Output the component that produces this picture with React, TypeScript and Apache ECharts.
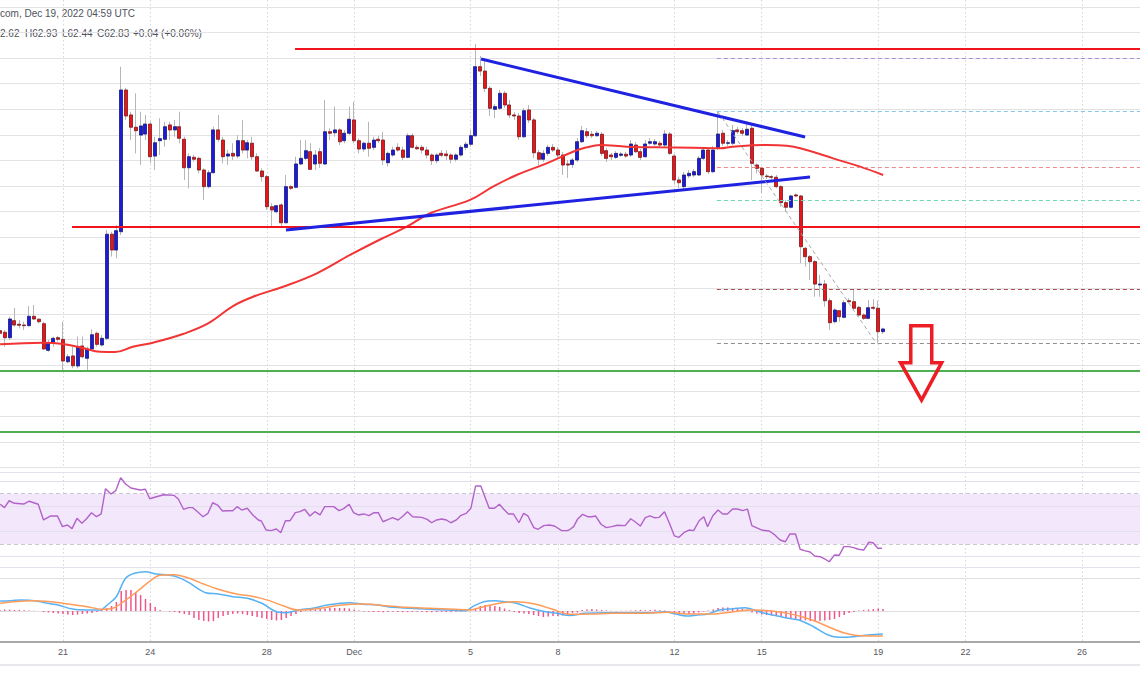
import React, { useEffect, useRef } from 'react';
import * as echarts from 'echarts';

// ---- time axis: x values are days since Nov 21 00:00 UTC (4H candles) ----
const X_MIN = -2.1639;
const X_MAX = 36.993;
const candleStartDay = -13 / 6; // Nov 18 20:00
const candleStepDay = 1 / 6; // 4 hours
const dateTickDays = [0, 3, 7, 10, 14, 17, 21, 24, 28, 31, 35];
const dateTickLabels = ['21', '24', '28', 'Dec', '5', '8', '12', '15', '19', '22', '26'];

// ---- LTC/USD 4H candles: [open, high, low, close] ----
const candles: number[][] = [
  [62.70, 62.91, 62.20, 62.49], [62.57, 62.75, 61.45, 62.15], [62.15, 63.79, 61.97, 63.61], [63.48, 64.47, 63.01, 63.14],
  [63.20, 63.53, 62.88, 63.12], [63.14, 63.40, 62.75, 63.09], [63.09, 64.62, 63.01, 63.82], [63.82, 64.70, 63.53, 63.61],
  [63.59, 63.66, 63.27, 63.40], [63.24, 63.40, 61.19, 61.27], [61.16, 61.97, 61.05, 61.76], [61.76, 62.23, 61.45, 62.10],
  [62.15, 62.28, 61.84, 62.02], [62.02, 63.40, 59.49, 60.33], [60.27, 60.87, 60.15, 60.66], [60.72, 61.45, 59.76, 59.96],
  [59.94, 62.23, 59.76, 61.45], [61.50, 62.23, 60.54, 60.66], [60.54, 61.45, 59.62, 61.27], [61.27, 62.80, 61.19, 62.38],
  [62.49, 62.62, 61.45, 61.63], [61.58, 62.36, 61.45, 62.10], [62.10, 70.56, 61.97, 70.23], [70.23, 70.43, 68.48, 69.00],
  [69.00, 70.95, 68.35, 70.51], [70.43, 83.32, 70.17, 81.50], [81.50, 81.66, 79.16, 79.47], [79.55, 79.80, 77.59, 78.59],
  [78.59, 81.24, 76.55, 78.32], [77.98, 79.80, 75.64, 78.69], [78.06, 79.55, 77.59, 78.84], [78.84, 79.02, 75.77, 76.29],
  [76.34, 77.85, 75.25, 77.38], [77.54, 79.29, 76.42, 77.70], [77.65, 79.02, 77.07, 78.63], [78.77, 79.02, 77.59, 78.38],
  [78.38, 79.16, 77.85, 78.63], [78.63, 79.80, 77.34, 77.73], [77.65, 77.85, 74.47, 75.43], [75.43, 76.55, 73.82, 76.29],
  [76.24, 76.42, 75.90, 76.09], [76.16, 76.29, 74.99, 75.25], [75.25, 75.38, 72.91, 73.95], [73.95, 75.25, 73.82, 75.04],
  [75.04, 78.63, 74.99, 78.38], [78.38, 79.55, 77.46, 77.65], [77.59, 77.85, 75.77, 76.29], [76.34, 76.81, 75.64, 76.50],
  [76.55, 77.34, 76.03, 76.34], [76.34, 77.98, 76.16, 77.54], [77.54, 79.16, 76.55, 76.81], [76.81, 77.59, 76.16, 77.38],
  [77.34, 77.85, 76.03, 76.29], [76.29, 76.55, 75.12, 75.17], [75.17, 75.38, 74.34, 74.73], [74.73, 74.86, 72.13, 72.38],
  [72.38, 72.65, 70.82, 72.13], [71.99, 72.52, 71.87, 72.46], [72.52, 72.65, 70.82, 71.13], [71.13, 74.86, 71.09, 73.95],
  [73.95, 74.08, 73.69, 73.82], [73.90, 76.29, 73.82, 75.72], [75.72, 77.59, 75.64, 76.16], [76.16, 77.59, 76.03, 76.76],
  [76.68, 77.34, 75.25, 75.30], [75.72, 76.81, 75.25, 76.42], [76.68, 76.97, 75.41, 75.77], [75.72, 80.72, 75.64, 78.24],
  [78.24, 78.51, 77.59, 78.12], [78.16, 80.20, 77.85, 78.38], [78.38, 78.51, 77.20, 77.46], [77.54, 78.38, 77.34, 78.12],
  [78.12, 80.20, 77.98, 79.21], [79.16, 80.59, 77.34, 77.54], [77.54, 77.73, 76.55, 76.89], [76.89, 77.46, 76.68, 77.34],
  [77.34, 79.02, 76.29, 76.95], [77.02, 77.85, 76.81, 77.59], [77.65, 77.91, 77.36, 77.54], [77.59, 78.24, 75.64, 76.03],
  [75.82, 76.68, 75.51, 76.55], [76.42, 77.07, 76.29, 76.81], [77.02, 77.34, 76.68, 76.81], [76.81, 77.07, 76.03, 76.24],
  [76.24, 78.12, 76.16, 77.93], [77.93, 78.12, 76.95, 77.02], [77.02, 77.20, 76.81, 76.91], [77.02, 77.20, 76.55, 76.81],
  [76.81, 77.07, 76.16, 76.42], [76.42, 76.55, 75.64, 75.98], [75.98, 76.55, 75.77, 76.42], [76.55, 76.81, 76.24, 76.40],
  [76.50, 76.81, 76.03, 76.37], [76.42, 76.55, 75.77, 76.09], [76.09, 76.55, 75.90, 76.42], [76.42, 77.20, 76.29, 77.02],
  [77.02, 77.46, 76.81, 77.26], [77.26, 78.38, 77.07, 77.93], [77.93, 85.09, 77.83, 83.32], [83.32, 84.16, 82.59, 82.98],
  [82.98, 84.00, 81.34, 81.63], [81.63, 81.81, 79.47, 80.07], [79.99, 80.41, 79.31, 80.20], [80.07, 81.50, 79.94, 81.24],
  [81.24, 81.42, 80.09, 80.33], [80.33, 80.72, 79.31, 79.55], [79.55, 79.78, 79.16, 79.47], [79.47, 79.70, 77.59, 77.85],
  [77.85, 80.09, 77.75, 79.88], [79.94, 80.33, 78.92, 79.16], [79.16, 79.31, 76.19, 76.60], [76.60, 76.81, 75.64, 76.09],
  [76.09, 76.81, 75.88, 76.55], [76.55, 77.20, 76.34, 77.02], [77.02, 77.28, 76.66, 76.81], [76.81, 77.05, 76.19, 76.42],
  [76.42, 76.66, 74.86, 75.64], [75.72, 76.03, 74.63, 75.64], [75.68, 76.19, 75.41, 76.03], [76.03, 77.75, 75.88, 77.46],
  [77.46, 78.69, 77.36, 78.32], [78.24, 78.53, 77.75, 77.93], [78.04, 78.30, 77.75, 77.93], [77.93, 78.30, 77.83, 78.12],
  [78.04, 78.22, 76.34, 76.55], [76.76, 76.97, 75.88, 76.16], [76.42, 76.58, 76.03, 76.29], [76.24, 76.73, 76.11, 76.55],
  [76.40, 76.66, 76.27, 76.50], [76.48, 76.66, 76.19, 76.34], [76.42, 77.59, 76.27, 77.28], [77.20, 77.44, 76.58, 76.68],
  [76.68, 76.89, 76.03, 76.24], [76.29, 77.59, 76.19, 77.28], [77.34, 77.75, 77.20, 77.46], [77.28, 77.67, 77.13, 77.46],
  [77.34, 77.52, 77.05, 77.20], [77.20, 78.38, 77.05, 78.06], [78.06, 78.22, 76.42, 76.55], [76.34, 76.50, 74.16, 74.47],
  [74.47, 74.70, 73.84, 74.26], [73.95, 75.09, 73.69, 74.86], [74.80, 75.25, 74.63, 74.99], [74.86, 75.33, 74.70, 75.12],
  [74.86, 76.34, 74.78, 76.16], [76.16, 77.05, 76.03, 76.81], [76.81, 76.97, 74.94, 75.12], [75.12, 77.13, 75.02, 76.81],
  [76.95, 79.86, 76.81, 78.06], [78.12, 78.38, 77.13, 77.34], [77.34, 77.59, 77.13, 77.38], [77.34, 78.77, 77.20, 78.32],
  [78.38, 78.61, 78.06, 78.24], [78.32, 78.53, 77.91, 78.12], [77.98, 79.00, 77.91, 78.43], [78.51, 78.77, 74.47, 75.77],
  [75.64, 75.77, 74.99, 75.38], [75.38, 75.51, 73.43, 74.86], [74.78, 74.94, 74.55, 74.73], [74.73, 74.86, 74.47, 74.68],
  [74.68, 74.86, 73.82, 73.95], [73.95, 74.08, 72.38, 72.70], [72.70, 72.91, 71.99, 72.34], [72.34, 73.30, 72.26, 73.22],
  [73.30, 73.43, 73.16, 73.22], [73.22, 73.30, 67.96, 69.26], [69.13, 69.26, 67.70, 68.48], [68.48, 68.61, 66.66, 68.09],
  [68.09, 68.22, 65.35, 66.34], [66.27, 67.05, 65.35, 66.34], [66.34, 66.66, 64.57, 65.04], [65.04, 65.23, 62.75, 63.32],
  [63.40, 64.45, 63.27, 64.31], [64.26, 64.31, 63.40, 63.79], [63.74, 65.09, 63.66, 64.88], [65.04, 65.23, 64.88, 64.96],
  [64.96, 65.95, 64.31, 64.45], [64.52, 64.62, 63.79, 63.92], [63.92, 64.05, 63.53, 63.66], [63.66, 65.09, 63.59, 64.49],
  [64.52, 65.15, 64.31, 64.45], [64.45, 65.04, 61.71, 62.62], [62.62, 62.93, 62.44, 62.83],
];

// ---- moving average (red), sampled [day, price] ----
const maPoints: number[][] = [
  [-2.16, 61.63], [-0.69, 61.76], [0, 61.66], [0.69, 61.34], [1.27, 61.05], [1.79, 61.03], [2.40, 61.44], [3.09, 61.76],
  [4.12, 62.44], [4.95, 63.22], [5.84, 64.62], [6.53, 65.35], [7.56, 66.13], [8.72, 67.18], [9.86, 68.61], [10.89, 69.82],
  [11.81, 70.82], [12.61, 71.87], [13.98, 72.91], [14.77, 73.95], [15.58, 74.86], [16.61, 75.77], [17.52, 76.68],
  [17.99, 77.02], [18.45, 77.20], [19.36, 77.07], [20.50, 77.02], [21.64, 76.99], [22.57, 76.94], [23.01, 77.07],
  [24.17, 77.20], [24.86, 77.15], [25.54, 76.81], [26.45, 76.16], [27.38, 75.51], [28.17, 74.86],
];

// ---- RSI [day, value] ----
const rsiPoints: number[][] = [
  [-2.16, 61.6], [-2.01, 58.9], [-1.85, 64.4], [-1.67, 62.4], [-1.35, 61.8], [-1.16, 64.0], [-0.85, 61.6], [-0.67, 49.1],
  [-0.42, 52.3], [-0.19, 52.3], [-0.02, 43.8], [0.15, 45.1], [0.31, 42.2], [0.48, 50.4], [0.65, 46.5], [0.81, 50.1],
  [0.98, 54.9], [1.15, 51.7], [1.31, 53.9], [1.46, 74.0], [1.65, 69.8], [1.81, 72.4], [1.98, 82.7], [2.15, 77.7],
  [2.33, 74.5], [2.65, 72.9], [2.83, 73.5], [2.98, 66.0], [3.21, 67.6], [3.46, 69.2], [3.81, 68.7], [3.96, 65.8],
  [4.14, 57.6], [4.31, 58.9], [4.46, 58.9], [4.64, 55.2], [4.81, 51.7], [4.98, 54.4], [5.14, 62.8], [5.31, 61.0],
  [5.48, 56.2], [5.64, 56.5], [5.83, 56.5], [5.98, 59.7], [6.14, 57.0], [6.33, 58.4], [6.52, 53.1], [6.71, 49.1],
  [6.81, 48.3], [6.98, 41.1], [7.14, 40.6], [7.33, 41.9], [7.48, 39.0], [7.64, 48.5], [7.80, 48.5], [7.98, 54.9],
  [8.14, 55.7], [8.30, 57.6], [8.48, 52.3], [8.65, 55.7], [8.83, 53.1], [8.99, 59.7], [9.14, 59.7], [9.30, 59.7],
  [9.48, 56.5], [9.64, 58.1], [9.83, 61.6], [9.98, 54.9], [10.14, 53.1], [10.33, 53.9], [10.51, 52.5], [10.68, 54.9],
  [10.83, 54.9], [10.99, 47.7], [11.18, 49.6], [11.32, 50.9], [11.51, 49.1], [11.68, 52.3], [11.83, 55.7], [12.01, 51.7],
  [12.32, 51.2], [12.51, 49.6], [12.66, 46.9], [12.83, 49.1], [13.01, 49.9], [13.17, 49.1], [13.32, 46.9], [13.51, 49.1],
  [13.67, 52.8], [13.85, 54.4], [14.01, 58.4], [14.17, 76.1], [14.35, 76.1], [14.64, 58.4], [14.82, 58.4], [14.99, 61.6],
  [15.13, 57.8], [15.30, 53.9], [15.47, 53.9], [15.66, 46.9], [15.82, 54.4], [15.97, 52.3], [16.17, 43.0], [16.32, 41.7],
  [16.51, 44.6], [16.70, 45.1], [16.88, 44.3], [17.13, 40.6], [17.32, 40.6], [17.42, 41.7], [17.54, 43.8], [17.67, 49.6],
  [17.85, 53.6], [18.02, 51.7], [18.16, 51.7], [18.29, 52.3], [18.48, 45.7], [18.66, 43.0], [18.85, 43.8], [19.04, 44.9],
  [19.31, 44.6], [19.50, 50.1], [19.66, 47.5], [19.83, 44.3], [20.00, 50.9], [20.16, 52.3], [20.31, 50.9], [20.48, 51.2],
  [20.66, 55.7], [20.83, 46.5], [21.00, 36.4], [21.16, 35.3], [21.35, 39.5], [21.51, 41.1], [21.66, 40.6], [21.85, 48.5],
  [22.01, 51.7], [22.14, 43.8], [22.32, 52.5], [22.50, 57.0], [22.66, 53.9], [22.82, 53.9], [23.00, 57.8], [23.16, 57.8],
  [23.35, 56.5], [23.51, 57.8], [23.66, 44.6], [23.85, 42.7], [24.03, 40.9], [24.26, 40.3], [24.45, 37.2], [24.63, 33.2],
  [24.81, 31.8], [24.97, 38.0], [25.16, 38.0], [25.32, 25.8], [25.47, 24.7], [25.66, 23.6], [25.82, 20.5], [26.00, 19.9],
  [26.16, 18.1], [26.32, 15.9], [26.50, 21.3], [26.66, 21.0], [26.82, 27.9], [26.99, 27.9], [27.16, 27.1], [27.32, 25.8],
  [27.50, 25.2], [27.68, 31.4], [27.82, 31.0], [27.99, 26.6], [28.13, 26.6],
];
const rsiGridLevels = [20, 40, 60, 80];
const rsiBandLevels = [70, 30];

// ---- MACD ----
const macdLine: number[][] = [
  [-2.16, 0.76], [-1.79, 0.79], [-1.42, 0.84], [-0.98, 0.79], [-0.54, 0.59], [-0.17, 0.46], [0.33, 0.15], [0.84, 0.08],
  [1.27, 0.08], [1.52, 0.46], [1.83, 1.09], [2.15, 2.50], [2.46, 2.88], [2.83, 3.00], [3.21, 2.82], [3.58, 2.75],
  [3.96, 2.57], [4.33, 2.16], [4.90, 1.40], [5.33, 1.30], [5.83, 1.09], [6.33, 0.97], [6.83, 0.59], [7.33, -0.05],
  [7.70, -0.13], [8.08, 0.08], [8.58, 0.21], [9.08, 0.46], [9.83, 0.63], [10.33, 0.51], [10.83, 0.46], [11.32, 0.28],
  [11.95, 0.21], [12.58, 0.13], [13.20, 0.08], [13.83, 0.02], [14.07, 0.33], [14.45, 0.71], [14.82, 0.79], [15.20, 0.71],
  [15.57, 0.59], [16.07, 0.21], [16.57, -0.05], [16.95, -0.18], [17.41, -0.34], [17.91, -0.18], [18.66, -0.13],
  [19.41, -0.13], [20.16, -0.13], [20.66, -0.05], [21.04, -0.23], [21.41, -0.38], [21.79, -0.31], [22.16, -0.23],
  [22.54, 0.08], [23.03, 0.18], [23.41, 0.25], [23.66, 0.13], [24.03, -0.13], [24.54, -0.38], [24.91, -0.56],
  [25.28, -0.69], [25.78, -1.20], [26.28, -1.83], [26.66, -2.01], [27.16, -1.96], [27.66, -1.83], [28.16, -1.76],
];
const signalLine: number[][] = [
  [-2.16, 0.59], [-1.67, 0.71], [-1.04, 0.79], [-0.42, 0.71], [0.21, 0.53], [0.84, 0.33], [1.33, 0.13], [1.71, 0.21],
  [2.08, 0.71], [2.58, 1.55], [2.96, 2.24], [3.33, 2.73], [3.83, 2.77], [4.33, 2.50], [4.83, 2.06], [5.33, 1.66],
  [5.96, 1.30], [6.58, 1.09], [7.08, 0.79], [7.58, 0.38], [8.08, 0.08], [8.83, 0.21], [9.58, 0.46], [10.33, 0.53],
  [11.08, 0.40], [11.83, 0.28], [12.58, 0.21], [13.45, 0.13], [13.95, 0.08], [14.45, 0.33], [15.07, 0.63], [15.57, 0.71],
  [16.20, 0.53], [16.82, 0.13], [17.41, -0.25], [18.16, -0.23], [18.91, -0.18], [19.91, -0.18], [20.79, -0.10],
  [21.54, -0.23], [22.29, -0.23], [23.03, -0.05], [23.66, 0.08], [24.28, 0.02], [24.91, -0.18], [25.66, -0.63],
  [26.41, -1.32], [26.88, -1.70], [27.38, -1.89], [28.16, -1.91],
];
const macdHistogram = [
  0.08, 0.11, 0.11, 0.08, 0.08, 0.06, 0.04, 0.02, 0, -0.08,
  -0.11, -0.15, -0.19, -0.23, -0.27, -0.31, -0.27, -0.23, -0.19, -0.15,
  -0.08, 0.11, 0.23, 0.38, 0.69, 1.53, 1.60, 1.60, 1.45, 1.22,
  0.92, 0.61, 0.31, 0.08, 0, -0.04, -0.08, -0.15, -0.23, -0.31,
  -0.53, -0.69, -0.76, -0.80, -0.76, -0.53, -0.38, -0.31, -0.23, -0.19,
  -0.23, -0.31, -0.38, -0.46, -0.53, -0.61, -0.69, -0.72, -0.69, -0.53,
  -0.38, -0.23, -0.08, 0.04, 0.08, 0.11, 0.15, 0.19, 0.23, 0.23,
  0.23, 0.23, 0.19, 0.11, 0.04, -0.04, -0.06, -0.08, -0.08, -0.09,
  -0.08, -0.06, -0.08, -0.09, -0.08, -0.08, -0.06, -0.08, -0.09, -0.09,
  -0.08, -0.06, -0.08, -0.08, -0.06, -0.04, -0.02, 0.04, 0.15, 0.38,
  0.46, 0.46, 0.38, 0.31, 0.19, 0.08, -0.08, -0.15, -0.19, -0.23,
  -0.31, -0.38, -0.46, -0.42, -0.38, -0.38, -0.34, -0.31, -0.15, -0.11,
  0.08, 0.11, 0.15, 0.11, 0.08, 0.04, 0.02, -0.02, 0.02, 0.02,
  0.04, 0.06, 0.08, 0.06, 0.08, 0.09, 0.06, 0.04, -0.04, -0.15,
  -0.19, -0.23, -0.23, -0.19, -0.11, -0.04, 0.04, 0.11, 0.23, 0.27,
  0.27, 0.24, 0.23, 0.19, 0.11, -0.11, -0.19, -0.27, -0.31, -0.34,
  -0.38, -0.46, -0.53, -0.61, -0.65, -0.69, -0.72, -0.76, -0.76, -0.76,
  -0.72, -0.69, -0.61, -0.46, -0.31, -0.15, -0.08, 0.04, 0.08, 0.11,
  0.15, 0.19, 0.15,
];
const macdGridLevels = [0, 2.5];

// ---- drawings ----
const resistanceLevels = [
  { price: 84.70, fromDay: 7.97 },
  { price: 70.80, fromDay: 0.31 },
];
const supportLevels = [59.55, 54.78];
const fibStartDay = 22.46;
const fibLevels = [84.0, 79.86, 75.48, 72.91, 65.95, 61.73];
const fibColors = ['#ab8fd9', '#86c8ea', '#ee8a8a', '#6fd6b2', '#b04d4d', '#8f8f8f'];
const trendUpper = [[14.36, 83.92], [25.49, 77.83]];
const trendLower = [[7.66, 70.56], [25.66, 74.70]];
const guideLine = [[22.5, 79.78], [27.93, 61.73]];
const arrowPoints = [
  [29.12, 63.09], [29.84, 63.09], [29.84, 60.20], [30.18, 60.20],
  [29.49, 57.28], [28.77, 60.20], [29.12, 60.20],
];

const FONT = '"Liberation Sans", Arial, sans-serif';

function buildOption(): any {
  const candleData = candles.map((c, k) => [candleStartDay + k * candleStepDay, c[0], c[3], c[2], c[1]]);
  const bodyData = candles.map((c, k) => [
    candleStartDay + k * candleStepDay, c[0], c[3], Math.min(c[0], c[3]), Math.max(c[0], c[3]),
  ]);
  const histData = macdHistogram.map((v, k) => [candleStartDay + k * candleStepDay, v]);

  const vSplit = { show: true, lineStyle: { color: '#d6d7dc', type: [1.5, 2.5], width: 1 } };
  const baseX = {
    type: 'value', min: X_MIN, max: X_MAX,
    axisLine: { show: false, onZero: false },
    axisTick: { show: false, customValues: dateTickDays },
    axisLabel: { show: false, customValues: dateTickDays },
    splitLine: vSplit,
  };
  const hiddenY = {
    type: 'value', axisLine: { show: false }, axisTick: { show: false }, axisLabel: { show: false },
    splitLine: { show: false },
  };
  const noLabel = { show: false };

  const drawingLines: any[] = [];
  resistanceLevels.forEach((r) => {
    drawingLines.push([
      { coord: [r.fromDay, r.price], lineStyle: { color: '#f2141d', width: 2, type: 'solid' } },
      { coord: [X_MAX, r.price] },
    ]);
  });
  supportLevels.forEach((p) => {
    drawingLines.push({ yAxis: p, lineStyle: { color: '#4fb052', width: 2, type: 'solid' } });
  });
  fibLevels.forEach((p, i) => {
    drawingLines.push([
      { coord: [fibStartDay, p], lineStyle: { color: fibColors[i], width: 1, type: [4, 3] } },
      { coord: [X_MAX, p] },
    ]);
  });
  [trendUpper, trendLower].forEach((t) => {
    drawingLines.push([
      { coord: t[0], lineStyle: { color: '#1f22e0', width: 3, type: 'solid' } },
      { coord: t[1] },
    ]);
  });
  drawingLines.push([
    { coord: guideLine[0], lineStyle: { color: '#a9a9a9', width: 1, type: [4, 3] } },
    { coord: guideLine[1] },
  ]);

  return {
    animation: false,
    backgroundColor: '#ffffff',
    grid: [
      { left: 0, right: 0, top: 0, height: 467.6 },
      { left: 0, right: 0, top: 472, height: 95.5 },
      { left: 0, right: 0, top: 567.5, height: 74.2 },
    ],
    xAxis: [
      { ...baseX, gridIndex: 0 },
      { ...baseX, gridIndex: 1, position: 'top', axisLine: { show: true, onZero: false, lineStyle: { color: '#e2e2ec', width: 1 } } },
      {
        ...baseX, gridIndex: 2, position: 'bottom',
        axisLine: { show: true, onZero: false, lineStyle: { color: '#8c8c8c', width: 1.5 } },
        axisLabel: {
          show: true, customValues: dateTickDays, color: '#555860', fontSize: 9, fontFamily: FONT, margin: 6,
          formatter: (v: number) => {
            const i = dateTickDays.findIndex((t) => Math.abs(t - v) < 1e-6);
            return i >= 0 ? dateTickLabels[i] : '';
          },
        },
      },
      {
        ...baseX, gridIndex: 2, position: 'top', splitLine: { show: false },
        axisLine: { show: true, onZero: false, lineStyle: { color: '#e2e2ec', width: 1 } },
      },
    ],
    yAxis: [
      {
        ...hiddenY, gridIndex: 0, min: 52, max: 88.53125, interval: 2,
        splitLine: { show: true, showMaxLine: false, lineStyle: { color: '#e3e3e7', width: 1.2 } },
      },
      { ...hiddenY, gridIndex: 1, min: 11.31, max: 87.26 },
      { ...hiddenY, gridIndex: 2, min: -2.343, max: 3.321 },
    ],
    graphic: [
      { type: 'text', x: 0, y: 13, silent: true, style: { text: 'com, Dec 19, 2022 04:59 UTC', fill: '#4f525c', fontSize: 10, fontFamily: FONT, verticalAlign: 'middle' } },
      { type: 'text', x: 0, y: 33.5, silent: true, style: { text: '2.62', fill: '#4f525c', fontSize: 10, fontFamily: FONT, verticalAlign: 'middle' } },
      { type: 'text', x: 25, y: 33.5, silent: true, style: { text: 'H62.93', fill: '#4f525c', fontSize: 10, fontFamily: FONT, verticalAlign: 'middle' } },
      { type: 'text', x: 62, y: 33.5, silent: true, style: { text: 'L62.44', fill: '#4f525c', fontSize: 10, fontFamily: FONT, verticalAlign: 'middle' } },
      { type: 'text', x: 97, y: 33.5, silent: true, style: { text: 'C62.83', fill: '#4f525c', fontSize: 10, fontFamily: FONT, verticalAlign: 'middle' } },
      { type: 'text', x: 133, y: 33.5, silent: true, style: { text: '+0.04 (+0.06%)', fill: '#4f525c', fontSize: 10, fontFamily: FONT, verticalAlign: 'middle' } },
      { type: 'line', silent: true, shape: { x1: 0, y1: 665, x2: 1140, y2: 665 }, style: { stroke: '#e8e8ec', lineWidth: 2 } },
    ],
    series: [
      {
        name: 'wicks', type: 'candlestick', xAxisIndex: 0, yAxisIndex: 0, barWidth: 3.5, z: 2, silent: true,
        data: candleData,
        itemStyle: { color: '#b6b6b6', color0: '#b6b6b6', borderColor: '#b6b6b6', borderColor0: '#b6b6b6', borderWidth: 1 },
      },
      {
        name: 'bodies', type: 'candlestick', xAxisIndex: 0, yAxisIndex: 0, barWidth: 3.5, z: 3, silent: true,
        data: bodyData,
        itemStyle: { color: '#1b1bd9', color0: '#e8151d', borderColor: '#15157a', borderColor0: '#7a1515', borderWidth: 0.7 },
      },
      {
        name: 'MA', type: 'line', xAxisIndex: 0, yAxisIndex: 0, data: maPoints, smooth: 0.4, showSymbol: false,
        symbol: 'none', z: 4, silent: true, lineStyle: { color: '#f23434', width: 2 },
      },
      {
        name: 'drawings', type: 'line', xAxisIndex: 0, yAxisIndex: 0, data: [], z: 5, silent: true,
        markLine: { silent: true, symbol: ['none', 'none'], label: noLabel, animation: false, z: 5, data: drawingLines },
      },
      {
        name: 'arrow', type: 'custom', xAxisIndex: 0, yAxisIndex: 0, z: 10, silent: true, clip: false,
        data: [arrowPoints[0]],
        renderItem: (_params: any, api: any) => ({
          type: 'polygon',
          shape: { points: arrowPoints.map((p) => api.coord(p)) },
          style: { fill: 'rgba(255,255,255,0)', stroke: '#ee1c24', lineWidth: 3.5, lineJoin: 'miter' },
        }),
      },
      {
        name: 'rsiBand', type: 'line', xAxisIndex: 1, yAxisIndex: 1, data: [], z: 1, silent: true,
        markArea: {
          silent: true, z: 1, itemStyle: { color: '#f3e7fc' },
          data: [[{ yAxis: rsiBandLevels[0] }, { yAxis: rsiBandLevels[1] }]],
        },
        markLine: {
          silent: true, z: 2, symbol: ['none', 'none'], label: noLabel,
          data: [
            ...rsiGridLevels.map((v) => ({ yAxis: v, lineStyle: { color: '#e2e0ea', width: 1, type: 'solid' } })),
            ...rsiBandLevels.map((v) => ({ yAxis: v, lineStyle: { color: '#c9c7cf', width: 1, type: [4, 3] } })),
          ],
        },
      },
      {
        name: 'RSI', type: 'line', xAxisIndex: 1, yAxisIndex: 1, data: rsiPoints, symbol: 'none', z: 3,
        silent: true, lineStyle: { color: '#b262c9', width: 1.4 },
      },
      {
        name: 'macdGrid', type: 'line', xAxisIndex: 2, yAxisIndex: 2, data: [], z: 1, silent: true,
        markLine: {
          silent: true, z: 1, symbol: ['none', 'none'], label: noLabel,
          data: macdGridLevels.map((v) => ({ yAxis: v, lineStyle: { color: '#dedee3', width: 1.2, type: 'solid' } })),
        },
      },
      {
        name: 'hist', type: 'bar', xAxisIndex: 2, yAxisIndex: 2, data: histData, barWidth: 1.5, z: 2, silent: true,
        itemStyle: { color: '#f0568b' },
      },
      {
        name: 'MACD', type: 'line', xAxisIndex: 2, yAxisIndex: 2, data: macdLine, smooth: 0.35, symbol: 'none', z: 3,
        silent: true, lineStyle: { color: '#58b1f2', width: 1.5 },
      },
      {
        name: 'Signal', type: 'line', xAxisIndex: 2, yAxisIndex: 2, data: signalLine, smooth: 0.35, symbol: 'none', z: 3,
        silent: true, lineStyle: { color: '#ff9c5a', width: 1.5 },
      },
    ],
  };
}

export default function App() {
  const ref = useRef<HTMLDivElement>(null);
  useEffect(() => {
    if (!ref.current) return;
    const chart = echarts.init(ref.current, undefined, { renderer: 'svg' });
    chart.setOption(buildOption());
    return () => chart.dispose();
  }, []);
  return (
    <div
      ref={ref}
      style={{ position: 'fixed', left: 0, top: 0, width: 1140, height: 694, background: '#ffffff' }}
    />
  );
}
